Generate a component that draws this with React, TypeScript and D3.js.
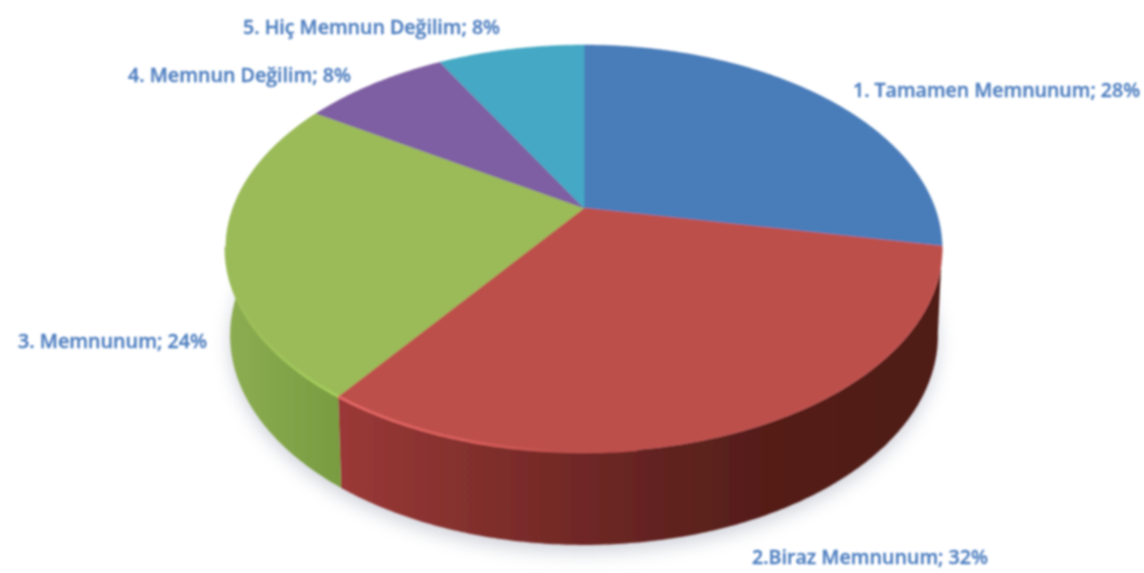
import React from "react";
import * as d3 from "d3";

const categories = ["1. Tamamen Memnunum", "2.Biraz Memnunum", "3. Memnunum", "4. Memnun Değilim", "5. Hiç Memnun Değilim"];
const percentages = [28, 32, 24, 8, 8];
const topColors = ["#4a7dba", "#bd4f4c", "#9bbb59", "#7f5ea3", "#45a8c4"];
const labelAnchors = [
  { x: 853, y: 97, w: 287 },
  { x: 752, y: 564, w: 236 },
  { x: 18, y: 348, w: 189 },
  { x: 128, y: 82, w: 223 },
  { x: 243, y: 34, w: 257 },
];

const W = 1144;
const H = 573;
const cx = 584;
const cy = 208;
const persp = -0.199;
const scaleY = 195.4;
const scaleX = 351;

const rim = (a: number): [number, number] => {
  const u = Math.sin(a);
  const v = -Math.cos(a);
  const k = 1 + persp * v;
  return [cx + (scaleX * u) / k, cy + (scaleY * v) / k];
};
const lower = ([x, y]: [number, number]): [number, number] => [
  584 + (x - 584) * 0.988,
  545 + (y - 452) * 1.03,
];
const samples = (a0: number, a1: number) => {
  const n = Math.max(2, Math.ceil((a1 - a0) / 0.01));
  return d3.range(n + 1).map((i) => a0 + ((a1 - a0) * i) / n);
};
const line = d3.line<[number, number]>();
const arcs = d3.pie<number>().sort(null)(percentages);

const facePath = (a0: number, a1: number) =>
  line([[cx, cy], ...samples(a0, a1).map(rim)]) + "Z";
const wallPath = (a0: number, a1: number) => {
  const top = samples(a0, a1).map(rim);
  return line([...top, ...top.map(lower).reverse()]) + "Z";
};
const rimPath = (a0: number, a1: number) => line(samples(a0, a1).map(rim))!;
const full = samples(0, Math.PI * 2);
const bottomOutline = line(full.map(rim).map(lower)) + "Z";

export default function App() {
  return (
    <svg width={W} height={H} viewBox={`0 0 ${W} ${H}`} style={{ position: "fixed", left: 0, top: 0, display: "block", background: "#fff" }}>
      <defs>
        <filter id="soft" x="-10%" y="-10%" width="120%" height="120%">
          <feGaussianBlur stdDeviation="0.9" />
        </filter>
        <filter id="txt" x="-5%" y="-30%" width="110%" height="160%">
          <feGaussianBlur stdDeviation="0.9" />
        </filter>
        <filter id="shadow" x="-10%" y="-10%" width="120%" height="130%">
          <feGaussianBlur stdDeviation="9" />
        </filter>
        <linearGradient id="wall1" gradientUnits="userSpaceOnUse" x1="342" x2="940" y1="0" y2="0">
          <stop offset="0" stopColor="#9a3937" />
          <stop offset="0.25" stopColor="#7f2e2b" />
          <stop offset="0.45" stopColor="#6b2624" />
          <stop offset="0.6" stopColor="#5c211d" />
          <stop offset="0.75" stopColor="#531d18" />
          <stop offset="1" stopColor="#4f1c17" />
        </linearGradient>
        <linearGradient id="wall2" gradientUnits="userSpaceOnUse" x1="226" x2="345" y1="0" y2="0">
          <stop offset="0" stopColor="#8dad52" />
          <stop offset="1" stopColor="#779b40" />
        </linearGradient>
        <linearGradient id="hl1" gradientUnits="userSpaceOnUse" x1="342" x2="560" y1="0" y2="0">
          <stop offset="0" stopColor="#e86b68" />
          <stop offset="0.6" stopColor="#dc605d" />
          <stop offset="1" stopColor="#bd4f4c" />
        </linearGradient>
        <linearGradient id="hl2" gradientUnits="userSpaceOnUse" x1="342" x2="228" y1="0" y2="0">
          <stop offset="0" stopColor="#a9d35f" />
          <stop offset="1" stopColor="#9bbb59" />
        </linearGradient>
      </defs>
      <path d={bottomOutline} fill="#a9aebd" opacity={0.55} transform="translate(0,7)" filter="url(#shadow)" />
      <g filter="url(#soft)">
        {arcs.map((d, i) =>
          i === 1 || i === 2 ? (
            <path key={i} d={wallPath(d.startAngle, d.endAngle)} fill={`url(#wall${i})`} />
          ) : null
        )}
        {arcs.map((d, i) => (
          <path key={i} d={facePath(d.startAngle, d.endAngle)} fill={topColors[i]} stroke={topColors[i]} strokeWidth={0.5} />
        ))}
        <path d={rimPath(arcs[1].endAngle - 0.75, arcs[1].endAngle)} fill="none" stroke="url(#hl1)" strokeWidth={2.5} />
        <path d={rimPath(arcs[2].startAngle, arcs[2].startAngle + 0.75)} fill="none" stroke="url(#hl2)" strokeWidth={2.5} />
      </g>
      <g filter="url(#txt)" fontFamily="'Open Sans', sans-serif" fontWeight={600} fontSize={19} fill="#4f7fc0" stroke="#4f7fc0" strokeWidth={0.35}>
        {categories.map((c, i) => (
          <text key={c} x={labelAnchors[i].x} y={labelAnchors[i].y} textLength={labelAnchors[i].w} lengthAdjust="spacingAndGlyphs">
            {`${c}; ${percentages[i]}%`}
          </text>
        ))}
      </g>
    </svg>
  );
}
